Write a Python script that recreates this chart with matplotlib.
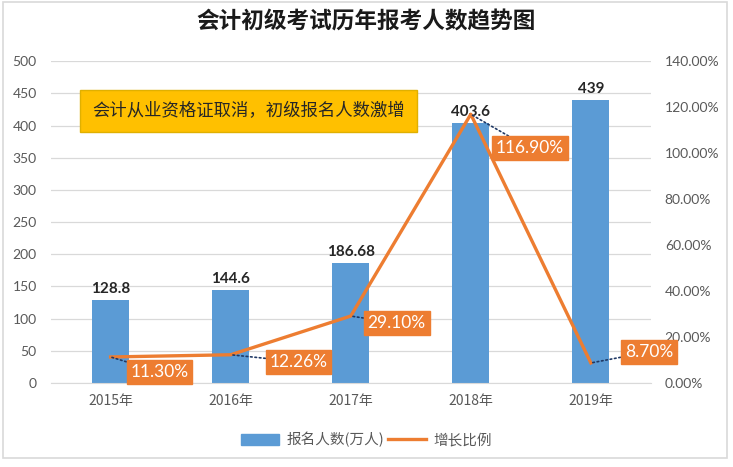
import matplotlib
matplotlib.use("Agg")
import matplotlib.pyplot as plt
from matplotlib.patches import Rectangle
from matplotlib.lines import Line2D
from matplotlib.ticker import FuncFormatter, MultipleLocator

plt.rcParams['font.family'] = ['Lato', 'Noto Sans CJK SC', 'DejaVu Sans']
CJK = ['Noto Sans CJK SC', 'DejaVu Sans']

years = ["2015年", "2016年", "2017年", "2018年", "2019年"]
applicants = [128.8, 144.6, 186.68, 403.6, 439]
applicant_labels = ["128.8", "144.6", "186.68", "403.6", "439"]
growth = [11.30, 12.26, 29.10, 116.90, 8.70]
growth_labels = ["11.30%", "12.26%", "29.10%", "116.90%", "8.70%"]
label_offsets = [(49, -15), (68, -7), (46, -7), (59, -34), (58, 11)]

BLUE = "#5B9BD5"
ORANGE = "#ED7D31"
GRAY = "#595959"

fig = plt.figure(figsize=(7.33, 4.67), dpi=100)
fig.patches.append(Rectangle((0.004, 0.02), 0.988, 0.975, transform=fig.transFigure,
                             fill=False, edgecolor="#D9D9D9", linewidth=1.2))

ax = fig.add_axes([0.069, 0.180, 0.819, 0.689])
x = list(range(len(years)))
ax.bar(x, applicants, width=0.31, color=BLUE, zorder=2)
ax.set_xlim(-0.5, len(years) - 0.5)
ax.set_ylim(0, 500)
ax.yaxis.set_major_locator(MultipleLocator(50))
ax.set_xticks(x)
ax.set_xticklabels(years, family=CJK)
ax.grid(axis='y', color="#D9D9D9", linewidth=0.9, zorder=0)
for s in ['top', 'right', 'left']:
    ax.spines[s].set_visible(False)
ax.spines['bottom'].set_color("#D9D9D9")
ax.tick_params(axis='y', length=0, colors=GRAY, labelsize=10, pad=10)
ax.tick_params(axis='x', length=0, colors=GRAY, labelsize=10, pad=8)
ax.set_axisbelow(True)

for xi, v, lab in zip(x, applicants, applicant_labels):
    ax.annotate(lab, (xi, v), xytext=(0, 4), textcoords='offset pixels',
                ha='center', va='bottom', fontsize=11, fontweight='bold', color="#262626")

ax2 = ax.twinx()
ax2.set_ylim(0, 140)
ax2.yaxis.set_major_locator(MultipleLocator(20))
ax2.yaxis.set_major_formatter(FuncFormatter(lambda v, p: f"{v:.2f}%"))
for s in ['top', 'right', 'left', 'bottom']:
    ax2.spines[s].set_visible(False)
ax2.tick_params(axis='y', length=0, colors=GRAY, labelsize=10, pad=10)
ax2.plot(x, growth, color=ORANGE, linewidth=2.4, zorder=3)

for xi, g, lab, off in zip(x, growth, growth_labels, label_offsets):
    ax2.annotate(lab, (xi, g), xytext=off, textcoords='offset pixels',
                 ha='center', va='center', fontsize=12.5, color='white',
                 bbox=dict(boxstyle='square,pad=0.22', facecolor=ORANGE, edgecolor=ORANGE),
                 arrowprops=dict(arrowstyle='-', linestyle=':', color='#1F3864', linewidth=1.2,
                                 shrinkA=0, shrinkB=0),
                 zorder=5)

fig.text(0.5, 0.952, "会计初级考试历年报考人数趋势图", ha='center', va='center',
         fontsize=16.3, fontweight='bold', color="#1a1a1a", family=CJK)

ax.text(0.1255, 0.762, "会计从业资格证取消，初级报名人数激增", transform=fig.transFigure,
        ha='left', va='center', fontsize=12.5, color="#262626", family=CJK,
        bbox=dict(boxstyle='square,pad=0.7', facecolor="#FFC000", edgecolor="#E0B000"))

handles = [Rectangle((0, 0), 1, 1, color=BLUE),
           Line2D([0], [0], color=ORANGE, linewidth=2.4)]
fig.legend(handles, ["报名人数(万人)", "增长比例"], loc='center', bbox_to_anchor=(0.5, 0.058),
           ncol=2, frameon=False, prop={'family': CJK, 'size': 10.5}, labelcolor=GRAY,
           handlelength=2.6, handletextpad=0.5, columnspacing=0.3)

fig.savefig("out.png", dpi=100)
